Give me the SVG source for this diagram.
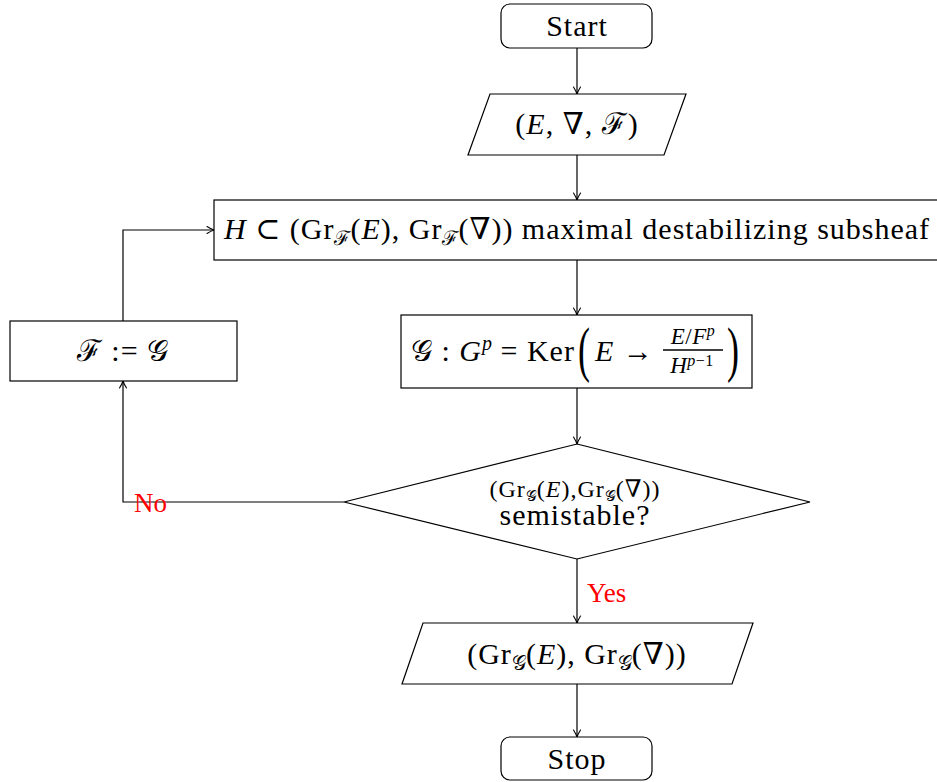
<svg xmlns="http://www.w3.org/2000/svg" width="937" height="782" viewBox="0 0 937 782">
<defs>
<marker id="arr" markerUnits="userSpaceOnUse" markerWidth="12" markerHeight="12" refX="10" refY="6" orient="auto">
<path d="M3,2.5 Q7,5 10,6 Q7,7 3,9.5" fill="none" stroke="#000" stroke-width="1.1" stroke-linecap="round"/>
</marker>
</defs>
<style>
.box{fill:#fff;stroke:#000;stroke-width:1.2}
.t{font-family:'Liberation Serif','DejaVu Serif',serif;font-size:30px;letter-spacing:1px;fill:#000}
.i{font-style:italic}
.s{font-size:20px;letter-spacing:0}
.f{font-family:'Liberation Serif','DejaVu Serif',serif;font-size:23px;letter-spacing:0.5px;fill:#000}
.lbl{font-family:'Liberation Serif','DejaVu Serif',serif;font-size:27px;fill:#ff0000}
.c{fill:none;stroke:#000;stroke-width:1.2}
</style>
<rect width="937" height="782" fill="#fff"/>
<g id="connectors">
<line class="c" x1="577" y1="48" x2="577" y2="94" marker-end="url(#arr)"/>
<line class="c" x1="577" y1="155" x2="577" y2="200" marker-end="url(#arr)"/>
<line class="c" x1="577" y1="260" x2="577" y2="315" marker-end="url(#arr)"/>
<line class="c" x1="577" y1="388" x2="577" y2="444" marker-end="url(#arr)"/>
<line class="c" x1="577" y1="559" x2="577" y2="623" marker-end="url(#arr)"/>
<line class="c" x1="577" y1="684" x2="577" y2="737" marker-end="url(#arr)"/>
<polyline class="c" points="344,502 123,502 123,381" marker-end="url(#arr)"/>
<polyline class="c" points="123,321 123,230 214,230" marker-end="url(#arr)"/>
<text class="lbl" x="587" y="602">Yes</text>
<text class="lbl" x="134" y="512">No</text>
</g>
<g id="start">
<rect class="box" x="501" y="4" width="151" height="44" rx="9"/>
<text class="t" x="577" y="36" text-anchor="middle">Start</text>
</g>
<g id="input">
<polygon class="box" points="490,94 686,94 664,155 468,155"/>
<text class="t" x="577" y="134" text-anchor="middle">(<tspan class="i">E</tspan>, ∇, ℱ)</text>
</g>
<g id="destab">
<rect class="box" x="214" y="200" width="730" height="60"/>
<text class="t" x="224" y="239"><tspan class="i">H</tspan> ⊂ (Gr<tspan class="s" dy="6">ℱ</tspan><tspan dy="-6">(</tspan><tspan class="i">E</tspan>), Gr<tspan class="s" dy="6">ℱ</tspan><tspan dy="-6">(∇)) maximal destabilizing subsheaf</tspan></text>
</g>
<g id="kernel">
<rect class="box" x="401" y="315" width="351" height="73"/>
<text class="t" x="411" y="361">𝒢 : <tspan class="i">G</tspan><tspan class="s i" dy="-11">p</tspan><tspan dy="11"> = Ker</tspan></text>
<text class="t" transform="translate(578 370) scale(1 1.7)" style="font-size:36px;letter-spacing:0">(</text>
<text class="t" x="595" y="361"><tspan class="i">E</tspan> →</text>
<text class="f" x="693" y="344" text-anchor="middle"><tspan class="i">E</tspan>/<tspan class="i">F</tspan><tspan class="i" style="font-size:16px" dy="-8">p</tspan></text>
<line x1="663" y1="350" x2="723" y2="350" stroke="#000" stroke-width="1.3"/>
<text class="f" x="692" y="373" text-anchor="middle"><tspan class="i">H</tspan><tspan class="i" style="font-size:16px" dy="-7">p</tspan><tspan style="font-size:16px">−1</tspan></text>
<text class="t" transform="translate(727 370) scale(1 1.7)" style="font-size:36px;letter-spacing:0">)</text>
</g>
<g id="update">
<rect class="box" x="10" y="321" width="227" height="60"/>
<text class="t" x="123" y="361" text-anchor="middle">ℱ := 𝒢</text>
</g>
<g id="decision">
<polygon class="box" points="577,444 810,502 577,559 344,502"/>
<text class="t" x="575" y="497" text-anchor="middle" style="font-size:24px;letter-spacing:1px">(Gr<tspan style="font-size:15px;letter-spacing:0" dy="4">𝒢</tspan><tspan dy="-4">(</tspan><tspan class="i">E</tspan>),Gr<tspan style="font-size:15px;letter-spacing:0" dy="4">𝒢</tspan><tspan dy="-4">(∇))</tspan></text>
<text class="t" x="575" y="525" text-anchor="middle">semistable?</text>
</g>
<g id="output">
<polygon class="box" points="423,623 753,623 732,684 402,684"/>
<text class="t" x="577" y="664" text-anchor="middle">(Gr<tspan class="s" dy="6">𝒢</tspan><tspan dy="-6">(</tspan><tspan class="i">E</tspan>), Gr<tspan class="s" dy="6">𝒢</tspan><tspan dy="-6">(∇))</tspan></text>
</g>
<g id="stop">
<rect class="box" x="501" y="737" width="151" height="43" rx="9"/>
<text class="t" x="577" y="769" text-anchor="middle">Stop</text>
</g>
</svg>
